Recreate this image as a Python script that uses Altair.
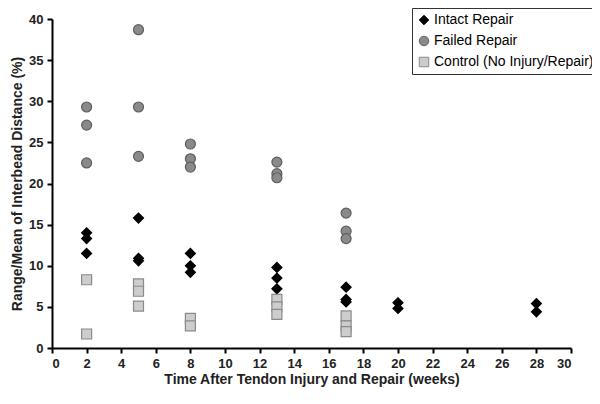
import altair as alt
import pandas as pd

series_names = ["Intact Repair", "Failed Repair", "Control (No Injury/Repair)"]

intact_weeks = [2, 2, 2, 5, 5, 5, 8, 8, 8, 13, 13, 13, 17, 17, 17, 20, 20, 28, 28]
intact_vals = [14.0, 13.3, 11.5, 15.8, 10.9, 10.6, 11.5, 10.0, 9.2, 9.8, 8.5, 7.2, 7.4, 5.9, 5.6, 5.5, 4.8, 5.4, 4.4]

failed_weeks = [2, 2, 2, 5, 5, 5, 8, 8, 8, 13, 13, 13, 17, 17, 17]
failed_vals = [29.3, 27.1, 22.5, 38.7, 29.3, 23.3, 24.8, 23.0, 22.0, 22.6, 21.2, 20.7, 16.4, 14.2, 13.3]

control_weeks = [2, 2, 5, 5, 5, 8, 8, 13, 13, 13, 17, 17, 17]
control_vals = [8.3, 1.7, 7.8, 6.9, 5.1, 3.6, 2.7, 5.9, 5.0, 4.1, 3.9, 2.7, 2.0]

x_ticks = list(range(0, 31, 2))
y_ticks = list(range(0, 41, 5))

rows = []
for name, xs, ys in [
    (series_names[0], intact_weeks, intact_vals),
    (series_names[1], failed_weeks, failed_vals),
    (series_names[2], control_weeks, control_vals),
]:
    for xv, yv in zip(xs, ys):
        rows.append({"week": xv, "value": yv, "group": name})
df = pd.DataFrame(rows)

FONT = "Liberation Sans"

legend = alt.Legend(
    title=None,
    orient="none",
    legendX=360,
    legendY=-11,
    strokeColor="#333333",
    fillColor="white",
    padding=5,
    labelFont=FONT,
    labelFontSize=14,
    labelColor="black",
    labelOffset=3,
    symbolSize=90,
    rowPadding=7,
    symbolStrokeWidth=1,
    labelLimit=300,
)

axis_common = dict(
    grid=False,
    domainColor="black",
    domainWidth=2,
    tickColor="black",
    tickWidth=2,
    tickSize=5,
    labelFont=FONT,
    labelFontSize=13,
    labelFontWeight="bold",
    labelColor="#222",
    labelPadding=4,
    titleFont=FONT,
    titleFontSize=14,
    titleFontWeight="bold",
    titleColor="#222",
)

chart = alt.Chart(df).mark_point(filled=True, opacity=1, strokeWidth=1.2).encode(
    x=alt.X(
        "week:Q",
        scale=alt.Scale(domain=[0, 30], nice=False, zero=True),
        axis=alt.Axis(
            values=x_ticks,
            title="Time After Tendon Injury and Repair (weeks)",
            titlePadding=2,
            **axis_common,
        ),
    ),
    y=alt.Y(
        "value:Q",
        scale=alt.Scale(domain=[0, 40], nice=False),
        axis=alt.Axis(
            values=y_ticks,
            title="Range/Mean of Interbead Distance (%)",
            titlePadding=4,
            **axis_common,
        ),
    ),
    shape=alt.Shape(
        "group:N",
        scale=alt.Scale(domain=series_names, range=["diamond", "circle", "square"]),
        legend=legend,
    ),
    fill=alt.Fill(
        "group:N",
        scale=alt.Scale(domain=series_names, range=["#000000", "#8a8a8a", "#cdcdcd"]),
        legend=legend,
    ),
    stroke=alt.Stroke(
        "group:N",
        scale=alt.Scale(domain=series_names, range=["#000000", "#5e5e5e", "#8a8a8a"]),
        legend=legend,
    ),
    size=alt.value(100),
).properties(
    width=519,
    height=329,
    padding={"left": 44, "top": 11, "right": 21, "bottom": 45},
    autosize=alt.AutoSizeParams(type="none"),
).configure_view(stroke=None)

chart.save("out.html", embed_options={"renderer": "svg", "actions": False})
